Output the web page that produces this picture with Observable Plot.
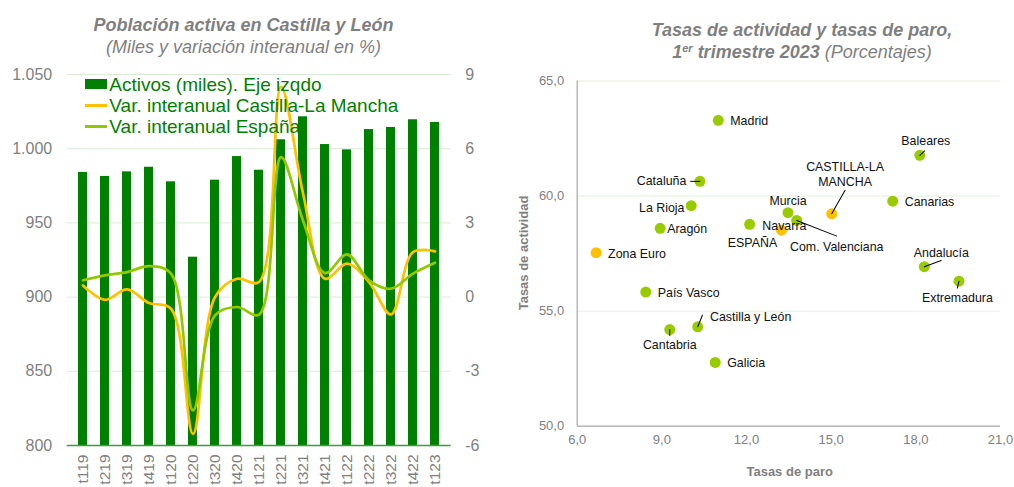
<!DOCTYPE html>
<html><head><meta charset="utf-8">
<script src="https://cdn.jsdelivr.net/npm/d3@7"></script>
<script src="https://cdn.jsdelivr.net/npm/@observablehq/plot@0.6"></script>
<style>
body{margin:0;background:#fff;}
#wrap{position:relative;width:1014px;height:487px;overflow:hidden;font-family:"Liberation Sans",Arial,sans-serif;}
#wrap svg{position:absolute;top:0;}
.t{position:absolute;white-space:nowrap;color:#7f7f7f;}
</style></head><body><div id="wrap"></div>
<script>
// ---------- Left chart data ----------
const quarters = ["t119","t219","t319","t419","t120","t220","t320","t420","t121","t221","t321","t421","t122","t222","t322","t422","t123"];
const activos = [984, 981.3, 984.4, 987.5, 977.7, 926.9, 978.8, 994.7, 985.5, 1006, 1021.5, 1002.8, 999.2, 1012.9, 1014.3, 1019.5, 1017.7];
const varCLM  = [0.47, -0.11, 0.31, -0.24, -0.47, -5.53, 0.0, 0.74, 0.61, 8.5, 4.2, 0.74, 1.35, 0.61, -0.70, 1.82, 1.85];
const varEsp  = [0.68, 0.88, 1.01, 1.25, 0.95, -4.58, -0.74, -0.40, -0.71, 5.66, 3.1, 0.97, 1.73, 0.68, 0.34, 0.95, 1.39];
const leftTicks = [800, 850, 900, 950, 1000, 1050];

// ---------- Right chart data ----------
const regions   = ["Madrid","Baleares","Cataluña","La Rioja","Aragón","CASTILLA-LA\nMANCHA","Canarias","Murcia","Navarra","ESPAÑA","Com. Valenciana","Zona Euro","País Vasco","Cantabria","Castilla y León","Galicia","Andalucía","Extremadura"];
const tasaParo  = [11.0, 18.14, 10.35, 10.04, 8.94, 15.02, 17.18, 13.47, 12.11, 13.24, 13.78, 6.67, 8.43, 9.28, 10.27, 10.89, 18.3, 19.53];
const tasaAct   = [63.29, 61.77, 60.64, 59.58, 58.6, 59.23, 59.78, 59.28, 58.77, 58.52, 58.94, 57.54, 55.83, 54.2, 54.32, 52.77, 56.93, 56.3];
const highlighted = ["CASTILLA-LA\nMANCHA","ESPAÑA","Zona Euro"];
const xTicksR = [6, 9, 12, 15, 18, 21];
const yTicksR = [50, 55, 60, 65];

// label placement (pixel offsets) and leader lines [length, rotate]
const labelPos = {
  "Madrid":[12,0,"start"], "Baleares":[6,-15,"middle"], "Cataluña":[-13.6,-1,"end"],
  "La Rioja":[-6.7,1.4,"end"], "Aragón":[7,0,"start"], "CASTILLA-LA\nMANCHA":[13.3,-40,"middle"],
  "Canarias":[12,0,"start"], "Murcia":[0,-12.3,"middle"], "Navarra":[12.7,1,"start"],
  "ESPAÑA":[-29,12,"middle"], "Com. Valenciana":[40,26,"middle"], "Zona Euro":[12,0,"start"],
  "País Vasco":[12,0,"start"], "Cantabria":[0,14.7,"middle"], "Castilla y León":[12.3,-10.6,"start"],
  "Galicia":[12,0,"start"], "Andalucía":[17,-14.6,"middle"], "Extremadura":[-1.6,16,"middle"]
};
const leaders = {
  "Cataluña":[9.3,270], "Baleares":[6.6,47], "CASTILLA-LA\nMANCHA":[27,29.6],
  "Com. Valenciana":[43,111.4], "Castilla y León":[12.5,22], "Cantabria":[6,180],
  "Andalucía":[18,69.7], "Extremadura":[7,194]
};

const es = d3.formatLocale({decimal:",", thousands:".", grouping:[3], currency:["","€"], minus:"-"});
const fmtMiles = es.format(",");
const fmt1 = es.format(",.1f");
const fmtInt = es.format("d");
const FONT = "Liberation Sans, Arial, sans-serif";

// dual axis mapping: right axis (%) -> left axis units
const pctZero = 900, pctPerUnit = 0.06;
const toLeft = p => pctZero + p / pctPerUnit;

const rowsL = quarters.map((q, i) => ({q, v: activos[i], clm: varCLM[i], esp: varEsp[i]}));
const baseL = leftTicks[0];

const left = Plot.plot({
  width: 500, height: 487,
  marginTop: 74, marginBottom: 42, marginLeft: 66.7, marginRight: 49.3,
  style: {fontFamily: FONT, background: "transparent", overflow: "visible"},
  x: {type: "band", domain: quarters, paddingInner: 0.59, paddingOuter: 0.295},
  y: {domain: [leftTicks[0], leftTicks[leftTicks.length - 1]]},
  marks: [
    Plot.gridY(leftTicks.slice(1), {stroke: "#dcebd5", strokeOpacity: 1}),
    Plot.barY(rowsL, {x: "q", y1: baseL, y2: "v", fill: "#008000"}),
    Plot.ruleY([baseL], {stroke: "#3d9b3d", strokeWidth: 1.3}),
    Plot.line(rowsL, {x: "q", y: d => toLeft(d.clm), stroke: "#FFC000", strokeWidth: 2.7, curve: "catmull-rom"}),
    Plot.line(rowsL, {x: "q", y: d => toLeft(d.esp), stroke: "#92C800", strokeWidth: 2.7, curve: "catmull-rom"}),
    Plot.axisY({ticks: leftTicks, tickSize: 0, tickPadding: 15, tickFormat: fmtMiles, fontSize: 16, color: "#7f7f7f", label: null}),
    Plot.axisY({anchor: "right", ticks: leftTicks, tickSize: 0, tickPadding: 14,
      tickFormat: d => fmtInt(Math.round((d - pctZero) * pctPerUnit)), fontSize: 16, color: "#7f7f7f", label: null}),
    Plot.axisX({tickRotate: -90, tickSize: 0, tickPadding: 9, fontSize: 15.5, color: "#7f7f7f", label: null})
  ]
});
left.style.left = "0px";

const pts = regions.map((name, i) => ({name, paro: tasaParo[i], act: tasaAct[i], hi: highlighted.includes(name)}));
const lineShape = {draw(context, l) { context.moveTo(0, 0); context.lineTo(0, -l); }};

const labelMarks = pts.map(p => {
  const [dx, dy, anchor] = labelPos[p.name];
  return Plot.text([p], {x: "paro", y: "act", text: "name", dx, dy, textAnchor: anchor,
    fontSize: 12.4, fill: "#111", lineHeight: 1.22});
});
const leaderMarks = pts.filter(p => leaders[p.name]).map(p => {
  const [len, rot] = leaders[p.name];
  return Plot.vector([p], {x: "paro", y: "act", length: len, rotate: rot, anchor: "start",
    shape: lineShape, stroke: "#000", strokeWidth: 1});
});

const right = Plot.plot({
  width: 514, height: 487,
  marginTop: 80.5, marginBottom: 61.3, marginLeft: 76.7, marginRight: 14,
  style: {fontFamily: FONT, background: "transparent", overflow: "visible"},
  x: {domain: [xTicksR[0], xTicksR[xTicksR.length - 1]]},
  y: {domain: [yTicksR[0], yTicksR[yTicksR.length - 1]]},
  marks: [
    Plot.gridY(yTicksR.slice(1), {stroke: "#e2efda", strokeOpacity: 1}),
    Plot.ruleX([xTicksR[0]], {stroke: "#a6a6a6", strokeWidth: 1.2}),
    Plot.ruleY([yTicksR[0]], {stroke: "#a6a6a6", strokeWidth: 1.2}),
    Plot.dot(pts.filter(p => !p.hi), {x: "paro", y: "act", r: 5.5, fill: "#99CC00"}),
    Plot.dot(pts.filter(p => p.hi), {x: "paro", y: "act", r: 5.5, fill: "#FFC000"}),
    ...leaderMarks,
    ...labelMarks,
    Plot.axisX({ticks: xTicksR, tickSize: 0, tickPadding: 9, tickFormat: fmt1, fontSize: 13, color: "#808080", label: null}),
    Plot.axisY({ticks: yTicksR, tickSize: 0, tickPadding: 13, tickFormat: fmt1, fontSize: 13, color: "#808080", label: null})
  ]
});
right.style.left = "500px";

const wrap = document.getElementById("wrap");
wrap.appendChild(left);
wrap.appendChild(right);

// ---------- HTML text: titles, legend, axis titles ----------
wrap.insertAdjacentHTML("beforeend", `
<div class="t" style="left:0;width:487px;top:13.7px;text-align:center;font-size:18px;line-height:22px;">
  <b><i>Población activa en Castilla y León</i></b><br><i>(Miles y variación interanual en %)</i>
</div>
<div class="t" style="left:560px;width:484px;top:19.2px;text-align:center;font-size:18px;line-height:22px;">
  <b><i>Tasas de actividad y tasas de paro,</i></b><br><b><i>1<span style="font-size:11px;position:relative;top:-6px;line-height:0;">er</span> trimestre 2023</i></b> <i>(Porcentajes)</i>
</div>
<div class="t" style="left:85px;top:73.5px;font-size:19px;line-height:21.3px;color:#008000;">
  <div style="display:flex;align-items:center;"><span style="display:inline-block;width:21.7px;height:10px;background:#008000;margin-right:2.6px;"></span>Activos (miles). Eje izqdo</div>
  <div style="display:flex;align-items:center;"><span style="display:inline-block;width:22px;height:2.7px;background:#FFC000;margin-right:2.3px;"></span>Var. interanual Castilla-La Mancha</div>
  <div style="display:flex;align-items:center;"><span style="display:inline-block;width:22px;height:2.7px;background:#92C800;margin-right:2.3px;"></span>Var. interanual España</div>
</div>
<div class="t" style="left:689.7px;width:200px;top:464px;text-align:center;font-size:13px;font-weight:bold;">Tasas de paro</div>
<div class="t" style="left:425px;width:200px;top:244px;text-align:center;font-size:13px;font-weight:bold;transform:rotate(-90deg);transform-origin:100px 9px;">Tasas de actividad</div>
`);
</script></body></html>
